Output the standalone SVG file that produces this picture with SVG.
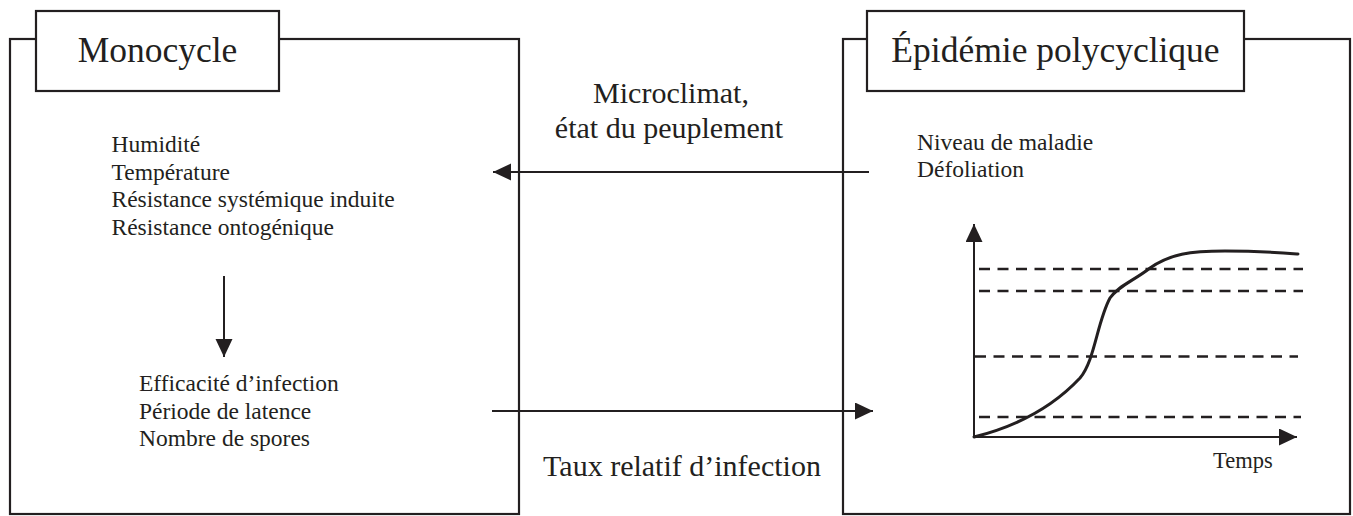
<svg xmlns="http://www.w3.org/2000/svg" width="1353" height="516" viewBox="0 0 1353 516">
<defs>
<style>
.frame{fill:none;stroke:#231f20;stroke-width:2.2}
.title{fill:#fff;stroke:#231f20;stroke-width:2.2}
.ln{fill:none;stroke:#231f20;stroke-width:2}
.dash{fill:none;stroke:#231f20;stroke-width:2.6;stroke-dasharray:11 7.5}
.curve{fill:none;stroke:#231f20;stroke-width:3;stroke-linecap:round}
text{font-family:"Liberation Serif","Times New Roman",serif;fill:#231f20}
.t1{font-size:35.5px;text-anchor:middle}
.t2{font-size:23.5px}
.t3{font-size:30px;text-anchor:middle}
</style>
<marker id="ah" markerUnits="userSpaceOnUse" markerWidth="19" markerHeight="18" refX="18" refY="8.5" orient="auto">
<path d="M0,0 L18,8.5 L0,17 z" fill="#231f20"/>
</marker>
</defs>

<g id="monocycle">
<rect class="frame" x="10" y="39" width="509" height="475"/>
<rect class="title" x="36" y="11" width="243" height="80"/>
<text class="t1" x="157.5" y="62">Monocycle</text>
<text class="t2" x="111.5" y="152">Humidité</text>
<text class="t2" x="111.5" y="179.5">Température</text>
<text class="t2" x="111.5" y="207">Résistance systémique induite</text>
<text class="t2" x="111.5" y="234.5">Résistance ontogénique</text>
<text class="t2" x="139" y="391">Efficacité d’infection</text>
<text class="t2" x="139" y="418.5">Période de latence</text>
<text class="t2" x="139" y="446">Nombre de spores</text>
</g>

<g id="epidemie">
<rect class="frame" x="843" y="39" width="507" height="475"/>
<rect class="title" x="867" y="11" width="377" height="80"/>
<text class="t1" x="1055.5" y="62">Épidémie polycyclique</text>
<text class="t2" x="917" y="150">Niveau de maladie</text>
<text class="t2" x="917" y="177">Défoliation</text>
</g>

<g id="graph">
<line class="dash" x1="979" y1="269" x2="1303" y2="269"/>
<line class="dash" x1="979" y1="291" x2="1303" y2="291"/>
<line class="dash" x1="975" y1="356.5" x2="1298" y2="356.5"/>
<line class="dash" x1="979" y1="417" x2="1301" y2="417"/>
<line class="ln" x1="974" y1="437" x2="974" y2="224" marker-end="url(#ah)"/>
<line class="ln" x1="974" y1="437" x2="1297" y2="437" marker-end="url(#ah)"/>
<path class="curve" d="M974,437 C1010,428 1050,410 1080,378 C1095,360 1097,322 1110,298 C1118,286 1135,280 1150,268 C1170,254 1190,251 1225,251 C1260,251 1285,253 1298,254"/>
<text class="t2" x="1213" y="468" style="font-size:22.5px">Temps</text>
</g>

<g id="connectors">
<line class="ln" x1="869" y1="172" x2="493" y2="172" marker-end="url(#ah)"/>
<line class="ln" x1="492" y1="411" x2="873" y2="411" marker-end="url(#ah)"/>
<line class="ln" x1="224" y1="276" x2="224" y2="357" marker-end="url(#ah)"/>
<text class="t3" x="671" y="103">Microclimat,</text>
<text class="t3" x="669" y="138">état du peuplement</text>
<text class="t3" x="682" y="476">Taux relatif d’infection</text>
</g>
</svg>
